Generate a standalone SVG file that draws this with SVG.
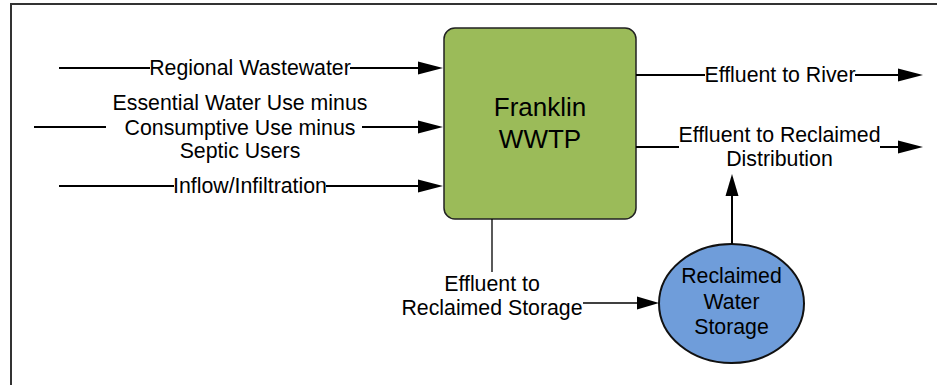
<svg xmlns="http://www.w3.org/2000/svg" width="937" height="385" viewBox="0 0 937 385">
<style>
text{font-family:"Liberation Sans",Arial,sans-serif;fill:#000;text-anchor:middle}
.lbl{font-size:21.3px}
.big{font-size:26px}
.c2{fill:none;stroke:#000;stroke-width:2}
.c1{fill:none;stroke:#000;stroke-width:1.3}
</style>
<defs>
<marker id="ah" markerUnits="userSpaceOnUse" markerWidth="26" markerHeight="14" refX="20" refY="6.5" orient="auto" overflow="visible">
<path d="M0,0 L25,6.5 L0,13 Z" fill="#000"/>
</marker>
<marker id="ahs" markerUnits="userSpaceOnUse" markerWidth="23" markerHeight="14" refX="18" refY="6.5" orient="auto" overflow="visible">
<path d="M0,0 L22,6.5 L0,13 Z" fill="#000"/>
</marker>
</defs>
<path d="M11,385 V4 H937" fill="none" stroke="#333" stroke-width="2"/>
<g id="wwtp">
<rect x="444" y="28" width="192" height="191" rx="11" fill="#9BBB59" stroke="#222" stroke-width="1.5"/>
<text class="big" x="540" y="116">Franklin</text>
<text class="big" x="540" y="148">WWTP</text>
</g>
<g id="storage">
<ellipse cx="731.5" cy="303.5" rx="72.5" ry="59.5" fill="#6F9DDA" stroke="#111" stroke-width="2"/>
<text class="lbl" x="731.5" y="283">Reclaimed</text>
<text class="lbl" x="731.5" y="309">Water</text>
<text class="lbl" x="731.5" y="334">Storage</text>
</g>
<g id="connectors">
<path class="c2" d="M59,68 H150"/>
<path class="c2" d="M350,68 H438" marker-end="url(#ah)"/>
<text class="lbl" x="250" y="75">Regional Wastewater</text>
<path class="c2" d="M34,127 H106"/>
<path class="c2" d="M362,127 H438" marker-end="url(#ah)"/>
<text class="lbl" x="240" y="110">Essential Water Use minus</text>
<text class="lbl" x="240" y="135">Consumptive Use minus</text>
<text class="lbl" x="240" y="158">Septic Users</text>
<path class="c2" d="M59,186 H174"/>
<path class="c2" d="M326,186 H438" marker-end="url(#ah)"/>
<text class="lbl" x="250" y="193">Inflow/Infiltration</text>
<path class="c2" d="M636,75 H705"/>
<path class="c2" d="M855,75 H918" marker-end="url(#ah)"/>
<text class="lbl" x="780" y="82">Effluent to River</text>
<path class="c2" d="M636,147 H679"/>
<path class="c2" d="M880,147 H918" marker-end="url(#ah)"/>
<text class="lbl" x="779.5" y="142">Effluent to Reclaimed</text>
<text class="lbl" x="779.5" y="166">Distribution</text>
<path class="c2" d="M732,244 V178" marker-end="url(#ahs)"/>
<path class="c1" d="M492,219 V272"/>
<text class="lbl" x="492" y="291">Effluent to</text>
<text class="lbl" x="492" y="315">Reclaimed Storage</text>
<path class="c1" d="M583,303 H655" marker-end="url(#ahs)"/>
</g>
</svg>
